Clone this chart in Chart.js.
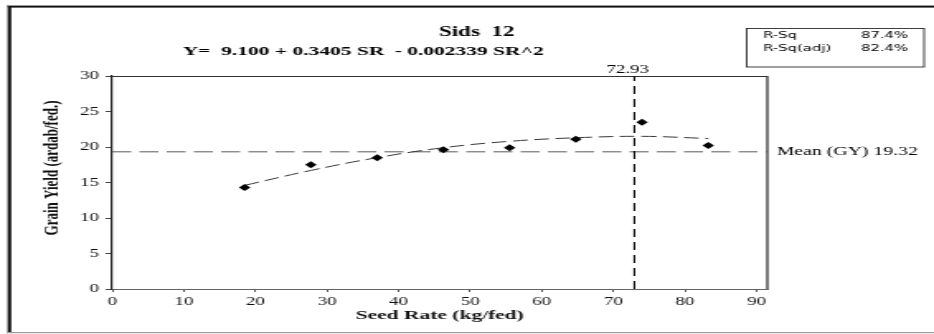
<!DOCTYPE html>
<html>
<head>
<meta charset="utf-8">
<title>Sids 12</title>
<script src="https://cdn.jsdelivr.net/npm/chart.js@4.4.1/dist/chart.umd.min.js"></script>
<style>
  body { margin: 0; background: #fff; }
</style>
</head>
<body>
<!-- the original figure is a horizontally stretched picture, so the canvas is drawn narrow and stretched -->
<canvas id="chart" width="566" height="334" style="display:block;width:934px;height:334px"></canvas>
<script>
// datos
const seedRate = [18.5, 27.75, 37, 46.25, 55.5, 64.75, 74, 83.25];
const grainYield = [14.3, 17.5, 18.5, 19.6, 19.9, 21.1, 23.5, 20.2];
// curva ajustada
const fitSeedRate = [18.5, 27.75, 37, 46.25, 55.5, 64.75, 74, 83.25];
const fitYield = [14.6, 16.7, 18.5, 19.9, 20.8, 21.3, 21.5, 21.2];
const meanGY = 19.32;
const optimumSR = 72.93;
const xTicks = [0, 10, 20, 30, 40, 50, 60, 70, 80, 90];
const yTicks = [0, 5, 10, 15, 20, 25, 30];
const statLabels = ["R-Sq", "R-Sq(adj)"];
const statValues = ["87.4%", "82.4%"];

const X_MIN = 0, X_MAX = 91.5, Y_MIN = 0, Y_MAX = 30;
const SERIF = "'Liberation Serif', 'Times New Roman', serif";

document.addEventListener("DOMContentLoaded", () => {
  initChart();
});

/**
 * Marco, cuadro de R-Sq y textos sueltos
 */
const decorations = {
  id: "decorations",
  beforeDraw(chart) {
    const ctx = chart.ctx;
    ctx.save();
    ctx.fillStyle = "#fff";
    ctx.fillRect(0, 0, chart.width, chart.height);
    // marco exterior
    ctx.fillStyle = "#9a9a9a";
    ctx.fillRect(4, 5, chart.width - 4, 1);
    ctx.fillRect(4, 5, 0.6, 328);
    ctx.fillRect(4, 332, chart.width - 4, 1.2);
    ctx.fillStyle = "#111";
    ctx.fillRect(4.8, 6, chart.width - 4.8, 1.6);
    ctx.fillRect(4.8, 6, 2, 326);
    ctx.restore();
  },
  beforeDatasetsDraw(chart) {
    const ctx = chart.ctx;
    const a = chart.chartArea;
    ctx.save();
    ctx.strokeStyle = "#333";
    ctx.lineWidth = 1;
    ctx.beginPath();
    ctx.moveTo(a.left, a.top + 0.5);
    ctx.lineTo(a.right, a.top + 0.5);
    ctx.stroke();
    ctx.strokeStyle = "#222";
    ctx.lineWidth = 1.2;
    ctx.beginPath();
    ctx.moveTo(a.right, a.top);
    ctx.lineTo(a.right, a.bottom);
    ctx.stroke();
    ctx.restore();
  },
  afterDraw(chart) {
    const ctx = chart.ctx;
    const xs = chart.scales.x;
    const ys = chart.scales.y;
    ctx.save();
    ctx.fillStyle = "#000";

    // titulo y ecuacion
    ctx.textAlign = "center";
    ctx.textBaseline = "alphabetic";
    ctx.font = "bold 14px " + SERIF;
    ctx.fillText("Sids  12", 288.9, 36);
    ctx.textAlign = "left";
    ctx.font = "bold 13px " + SERIF;
    ctx.fillText("Y=  9.100 + 0.3405 SR  - 0.002339 SR^2", 110.7, 55);

    // titulo del eje y (un poco por encima del centro, como en la figura)
    ctx.save();
    ctx.translate(31.5, 168);
    ctx.rotate(-Math.PI / 2);
    ctx.textAlign = "center";
    ctx.textBaseline = "middle";
    ctx.fillStyle = "#111";
    ctx.font = "bold 13px " + SERIF;
    ctx.fillText("Grain Yield (ardab/fed.)", 0, 0);
    ctx.restore();

    // etiqueta de la media
    ctx.font = "12px " + SERIF;
    ctx.textBaseline = "middle";
    ctx.fillText("Mean (GY) " + meanGY.toFixed(2), chart.chartArea.right + 5.7, ys.getPixelForValue(meanGY));

    // etiqueta del optimo
    ctx.textAlign = "center";
    ctx.textBaseline = "alphabetic";
    ctx.font = "11.5px " + SERIF;
    ctx.fillText(optimumSR.toFixed(2), xs.getPixelForValue(optimumSR) - 4, 73.3);

    // cuadro R-Sq
    ctx.strokeStyle = "#111";
    ctx.lineWidth = 0.8;
    ctx.strokeRect(452.5, 28.5, 107.5, 38.5);
    ctx.font = "9px 'DejaVu Sans', Verdana, sans-serif";
    ctx.textAlign = "left";
    statLabels.forEach((lbl, i) => {
      ctx.fillText(lbl, 462.4, 38 + i * 13);
      ctx.fillText(statValues[i], 521.8, 38 + i * 13);
    });
    ctx.restore();
  },
};

/**
 * Inicializa la grafica
 */
function initChart() {
  const ctx = document.getElementById("chart").getContext("2d");

  new Chart(ctx, {
    type: "scatter",
    data: {
      datasets: [
        {
          label: "Grain Yield",
          data: seedRate.map((x, i) => ({ x: x, y: grainYield[i] })),
          pointStyle: "rectRot",
          pointRadius: 3.5,
          backgroundColor: "#000",
          borderColor: "#000",
          borderWidth: 0,
          showLine: false,
        },
        {
          label: "Fit",
          data: fitSeedRate.map((x, i) => ({ x: x, y: fitYield[i] })),
          showLine: true,
          borderColor: "#3a3a3a",
          borderWidth: 1,
          borderDash: [9, 4],
          tension: 0.4,
          pointRadius: 0,
        },
        {
          label: "Optimum",
          data: [
            { x: optimumSR, y: Y_MIN },
            { x: optimumSR, y: Y_MAX },
          ],
          showLine: true,
          borderColor: "#111",
          borderWidth: 1.1,
          borderDash: [8, 5],
          pointRadius: 0,
        },
        {
          label: "Mean",
          data: [
            { x: X_MIN, y: meanGY },
            { x: X_MAX, y: meanGY },
          ],
          showLine: true,
          borderColor: "#5a5a5a",
          borderWidth: 1,
          borderDash: [11.5, 5],
          pointRadius: 0,
        },
      ],
    },
    options: {
      responsive: false,
      devicePixelRatio: 1,
      animation: false,
      layout: {
        padding: { left: 0, top: 76, right: 101, bottom: 0 },
      },
      plugins: {
        legend: { display: false },
        tooltip: { enabled: false },
      },
      hover: { mode: null },
      scales: {
        x: {
          type: "linear",
          min: X_MIN,
          max: X_MAX,
          afterFit: (scale) => {
            scale.height = 45;
          },
          afterBuildTicks: (scale) => {
            scale.ticks = xTicks.map((v) => ({ value: v }));
          },
          grid: {
            drawOnChartArea: false,
            drawTicks: true,
            tickLength: 3,
            tickColor: "#555",
          },
          border: { color: "#666", width: 1 },
          ticks: {
            padding: 3,
            maxRotation: 0,
            color: "#111",
            font: { family: SERIF, size: 11.5 },
          },
          title: {
            display: true,
            text: "Seed Rate (kg/fed)",
            color: "#111",
            font: { family: SERIF, size: 13, weight: "bold" },
            padding: { top: 0, bottom: 11 },
          },
        },
        y: {
          type: "linear",
          min: Y_MIN,
          max: Y_MAX,
          afterFit: (scale) => {
            scale.width = 68;
          },
          afterBuildTicks: (scale) => {
            scale.ticks = yTicks.map((v) => ({ value: v }));
          },
          grid: {
            drawOnChartArea: false,
            drawTicks: true,
            tickLength: 4,
            tickColor: "#444",
          },
          border: { color: "#222", width: 1.2 },
          ticks: {
            padding: 4,
            color: "#111",
            font: { family: SERIF, size: 11.5 },
          },
          // el titulo del eje se dibuja en el plugin
          title: { display: false },
        },
      },
    },
    plugins: [decorations],
  });
}
</script>
</body>
</html>
